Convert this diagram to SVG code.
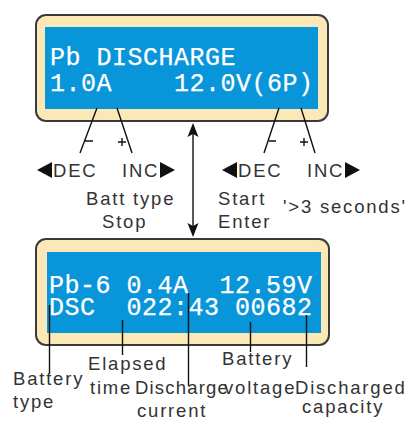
<svg xmlns="http://www.w3.org/2000/svg" width="416" height="421" viewBox="0 0 416 421">
<style>
.panel{fill:#FCE7B6;stroke:#3a3a3a;stroke-width:2}
.lcd{fill:#0895D9}
.lcdt{font-family:"Liberation Mono","DejaVu Sans Mono",monospace;font-size:25px;letter-spacing:0.5px;fill:#fff;stroke:#fff;stroke-width:0.25}
.lbl{font-family:"Liberation Sans",Arial,sans-serif;font-size:18.5px;fill:#333;letter-spacing:1.8px}
.ln{stroke:#111;stroke-width:1.4;fill:none}
.head{fill:#111}
</style>
<rect width="416" height="421" fill="#fff"/>
<g id="panel-top">
<rect class="panel" x="36" y="15" width="292" height="106" rx="10"/>
<rect class="lcd" x="45" y="27" width="273" height="82"/>
<text class="lcdt" xml:space="preserve"><tspan x="50" y="65">Pb DISCHARGE</tspan><tspan x="50" y="91">1.0A    12.0V(6P)</tspan></text>
</g>
<g id="panel-bottom">
<rect class="panel" x="36" y="239" width="293" height="106" rx="10"/>
<rect class="lcd" x="47" y="252" width="274" height="81"/>
<text class="lcdt" xml:space="preserve"><tspan x="49" y="293">Pb-6 0.4A  12.59V</tspan><tspan x="49" y="315">DSC  022:43 00682</tspan></text>
</g>
<g id="connectors">
<line class="ln" x1="193" y1="132" x2="193" y2="228"/>
<path class="head" d="M193,123 L198.5,137 L193,134 L187.5,137 Z"/>
<path class="head" d="M193,237 L198.5,223 L193,226 L187.5,223 Z"/>
<path class="ln" d="M97,108 L80,153 M85,141 H93"/>
<path class="ln" d="M117,108 L132,153 M118,142 H126 M122,138 V146"/>
<path class="ln" d="M279,108 L264,153 M269,141 H276"/>
<path class="ln" d="M301,108 L315,153 M300,142 H308 M304,138 V146"/>
<line class="ln" x1="49.5" y1="305" x2="49.5" y2="374"/>
<line class="ln" x1="122.5" y1="320" x2="122.5" y2="355"/>
<line class="ln" x1="188.5" y1="293" x2="188.5" y2="386"/>
<line class="ln" x1="250.5" y1="322" x2="250.5" y2="352"/>
<line class="ln" x1="306.5" y1="315" x2="306.5" y2="367"/>
</g>
<g id="buttons">
<polygon points="37,170 52,162 52,178" fill="#111"/>
<text class="lbl" x="53" y="177">DEC</text>
<text class="lbl" x="122" y="177">INC</text>
<polygon points="175,170 160,162 160,178" fill="#111"/>
<polygon points="222,170 237,162 237,178" fill="#111"/>
<text class="lbl" x="238" y="177">DEC</text>
<text class="lbl" x="307" y="177">INC</text>
<polygon points="360,170 345,162 345,178" fill="#111"/>
<text class="lbl" x="86" y="205">Batt type</text>
<text class="lbl" x="102" y="228">Stop</text>
<text class="lbl" x="218" y="205">Start</text>
<text class="lbl" x="218" y="228">Enter</text>
<text class="lbl" x="283" y="213">'&gt;3 seconds'</text>
</g>
<g id="labels">
<text class="lbl" x="13" y="385">Battery</text>
<text class="lbl" x="13" y="408">type</text>
<text class="lbl" x="88" y="370">Elapsed</text>
<text class="lbl" x="90" y="394">time</text>
<text class="lbl" x="135" y="394" style="letter-spacing:1.2px">Discharge</text>
<text class="lbl" x="137" y="417">current</text>
<text class="lbl" x="222" y="365">Battery</text>
<text class="lbl" x="224" y="394">voltage</text>
<text class="lbl" x="295" y="394">Discharged</text>
<text class="lbl" x="302" y="413">capacity</text>
</g>
</svg>
